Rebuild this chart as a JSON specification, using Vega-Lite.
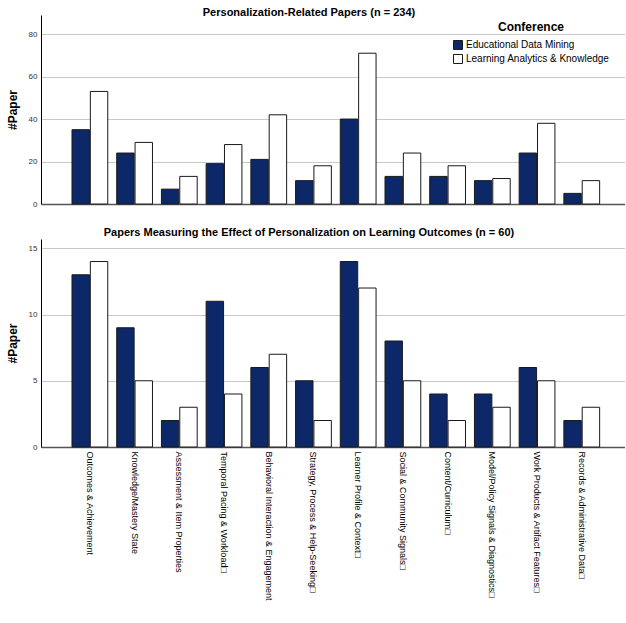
{
  "$schema": "https://vega.github.io/schema/vega-lite/v6.json",
  "padding": {"top": 7, "left": 6, "right": 0, "bottom": 0},
  "background": "white",
  "spacing": 19,
  "config": {
    "font": "Liberation Sans",
    "view": {"stroke": null},
    "axis": {"labelFont": "Liberation Sans", "titleFont": "Liberation Sans"},
    "title": {"font": "Liberation Sans", "fontSize": 11, "fontWeight": "bold", "color": "black", "anchor": "middle", "baseline": "alphabetic", "frame": "group"}
  },
  "datasets": {
    "top": [
      {"category": "Outcomes & Achievement", "conference": "Educational Data Mining", "papers": 35},
      {"category": "Outcomes & Achievement", "conference": "Learning Analytics & Knowledge", "papers": 53},
      {"category": "Knowledge/Mastery State", "conference": "Educational Data Mining", "papers": 24},
      {"category": "Knowledge/Mastery State", "conference": "Learning Analytics & Knowledge", "papers": 29},
      {"category": "Assessment & Item Properties", "conference": "Educational Data Mining", "papers": 7},
      {"category": "Assessment & Item Properties", "conference": "Learning Analytics & Knowledge", "papers": 13},
      {"category": "Temporal Pacing & Workload□", "conference": "Educational Data Mining", "papers": 19},
      {"category": "Temporal Pacing & Workload□", "conference": "Learning Analytics & Knowledge", "papers": 28},
      {"category": "Behavioral Interaction & Engagement", "conference": "Educational Data Mining", "papers": 21},
      {"category": "Behavioral Interaction & Engagement", "conference": "Learning Analytics & Knowledge", "papers": 42},
      {"category": "Strategy, Process & Help-Seeking□", "conference": "Educational Data Mining", "papers": 11},
      {"category": "Strategy, Process & Help-Seeking□", "conference": "Learning Analytics & Knowledge", "papers": 18},
      {"category": "Learner Profile & Context□", "conference": "Educational Data Mining", "papers": 40},
      {"category": "Learner Profile & Context□", "conference": "Learning Analytics & Knowledge", "papers": 71},
      {"category": "Social & Community Signals□", "conference": "Educational Data Mining", "papers": 13},
      {"category": "Social & Community Signals□", "conference": "Learning Analytics & Knowledge", "papers": 24},
      {"category": "Content/Curriculum□", "conference": "Educational Data Mining", "papers": 13},
      {"category": "Content/Curriculum□", "conference": "Learning Analytics & Knowledge", "papers": 18},
      {"category": "Model/Policy Signals & Diagnostics□", "conference": "Educational Data Mining", "papers": 11},
      {"category": "Model/Policy Signals & Diagnostics□", "conference": "Learning Analytics & Knowledge", "papers": 12},
      {"category": "Work Products & Artifact Features□", "conference": "Educational Data Mining", "papers": 24},
      {"category": "Work Products & Artifact Features□", "conference": "Learning Analytics & Knowledge", "papers": 38},
      {"category": "Records & Administrative Data□", "conference": "Educational Data Mining", "papers": 5},
      {"category": "Records & Administrative Data□", "conference": "Learning Analytics & Knowledge", "papers": 11}
    ],
    "bottom": [
      {"category": "Outcomes & Achievement", "conference": "Educational Data Mining", "papers": 13},
      {"category": "Outcomes & Achievement", "conference": "Learning Analytics & Knowledge", "papers": 14},
      {"category": "Knowledge/Mastery State", "conference": "Educational Data Mining", "papers": 9},
      {"category": "Knowledge/Mastery State", "conference": "Learning Analytics & Knowledge", "papers": 5},
      {"category": "Assessment & Item Properties", "conference": "Educational Data Mining", "papers": 2},
      {"category": "Assessment & Item Properties", "conference": "Learning Analytics & Knowledge", "papers": 3},
      {"category": "Temporal Pacing & Workload□", "conference": "Educational Data Mining", "papers": 11},
      {"category": "Temporal Pacing & Workload□", "conference": "Learning Analytics & Knowledge", "papers": 4},
      {"category": "Behavioral Interaction & Engagement", "conference": "Educational Data Mining", "papers": 6},
      {"category": "Behavioral Interaction & Engagement", "conference": "Learning Analytics & Knowledge", "papers": 7},
      {"category": "Strategy, Process & Help-Seeking□", "conference": "Educational Data Mining", "papers": 5},
      {"category": "Strategy, Process & Help-Seeking□", "conference": "Learning Analytics & Knowledge", "papers": 2},
      {"category": "Learner Profile & Context□", "conference": "Educational Data Mining", "papers": 14},
      {"category": "Learner Profile & Context□", "conference": "Learning Analytics & Knowledge", "papers": 12},
      {"category": "Social & Community Signals□", "conference": "Educational Data Mining", "papers": 8},
      {"category": "Social & Community Signals□", "conference": "Learning Analytics & Knowledge", "papers": 5},
      {"category": "Content/Curriculum□", "conference": "Educational Data Mining", "papers": 4},
      {"category": "Content/Curriculum□", "conference": "Learning Analytics & Knowledge", "papers": 2},
      {"category": "Model/Policy Signals & Diagnostics□", "conference": "Educational Data Mining", "papers": 4},
      {"category": "Model/Policy Signals & Diagnostics□", "conference": "Learning Analytics & Knowledge", "papers": 3},
      {"category": "Work Products & Artifact Features□", "conference": "Educational Data Mining", "papers": 6},
      {"category": "Work Products & Artifact Features□", "conference": "Learning Analytics & Knowledge", "papers": 5},
      {"category": "Records & Administrative Data□", "conference": "Educational Data Mining", "papers": 2},
      {"category": "Records & Administrative Data□", "conference": "Learning Analytics & Knowledge", "papers": 3}
    ]
  },
  "vconcat": [
    {
      "width": 584,
      "height": 189,
      "title": {"text": "Personalization-Related Papers (n = 234)", "dx": -24, "offset": -3},
      "data": {"name": "top"},
      "mark": {"type": "bar", "stroke": "#1a1a1a", "strokeWidth": 1},
      "encoding": {
        "x": {"field": "category", "type": "nominal", "sort": null,
              "scale": {"paddingInner": 0.2, "paddingOuter": 0.63, "align": 0.55},
              "axis": {"labels": false, "ticks": false, "title": null, "domainColor": "#555555", "domainWidth": 1.5}},
        "xOffset": {"field": "conference", "type": "nominal", "sort": null, "scale": {"paddingInner": 0.05}},
        "y": {"field": "papers", "type": "quantitative",
              "scale": {"domain": [0, 89], "nice": false},
              "axis": {"values": [0, 20, 40, 60, 80], "title": "#Paper", "titleFontSize": 12, "titleFontWeight": "bold", "titleColor": "black", "titlePadding": 9,
                       "labelFontSize": 8, "labelColor": "#333333", "labelPadding": 4, "ticks": false,
                       "domainColor": "black", "domainWidth": 1, "gridColor": "#c8c8c8", "gridWidth": 1}},
        "color": {"field": "conference", "type": "nominal", "sort": null,
                  "scale": {"domain": ["Educational Data Mining", "Learning Analytics & Knowledge"], "range": ["#0c2869", "#ffffff"]},
                  "legend": {"orient": "none", "legendX": 412, "legendY": 7, "title": "Conference",
                             "titleFontSize": 12, "titleFontWeight": "bold", "titleAnchor": "middle", "titleColor": "black", "titlePadding": 6,
                             "labelFontSize": 10, "labelColor": "black", "labelOffset": 3,
                             "symbolType": "square", "symbolSize": 81, "symbolStrokeColor": "#1a1a1a", "symbolStrokeWidth": 1, "rowPadding": 0}}
      }
    },
    {
      "width": 584,
      "height": 208,
      "title": {"text": "Papers Measuring the Effect of Personalization on Learning Outcomes (n = 60)", "dx": -24, "offset": 1},
      "data": {"name": "bottom"},
      "mark": {"type": "bar", "stroke": "#1a1a1a", "strokeWidth": 1},
      "encoding": {
        "x": {"field": "category", "type": "nominal", "sort": null,
              "scale": {"paddingInner": 0.2, "paddingOuter": 0.63, "align": 0.55},
              "axis": {"labelAngle": 90, "labelFontSize": 9, "labelColor": "black", "labelPadding": 4, "labelLimit": 250, "ticks": false, "title": null, "domainColor": "#555555", "domainWidth": 1.5}},
        "xOffset": {"field": "conference", "type": "nominal", "sort": null, "scale": {"paddingInner": 0.05}},
        "y": {"field": "papers", "type": "quantitative",
              "scale": {"domain": [0, 15.7], "nice": false},
              "axis": {"values": [0, 5, 10, 15], "title": "#Paper", "titleFontSize": 12, "titleFontWeight": "bold", "titleColor": "black", "titlePadding": 9,
                       "labelFontSize": 8, "labelColor": "#333333", "labelPadding": 4, "ticks": false,
                       "domainColor": "black", "domainWidth": 1, "gridColor": "#c8c8c8", "gridWidth": 1}},
        "color": {"field": "conference", "type": "nominal", "sort": null,
                  "scale": {"domain": ["Educational Data Mining", "Learning Analytics & Knowledge"], "range": ["#0c2869", "#ffffff"]},
                  "legend": null}
      }
    }
  ],
  "resolve": {"scale": {"x": "independent", "y": "independent"}, "legend": {"color": "independent"}}
}
